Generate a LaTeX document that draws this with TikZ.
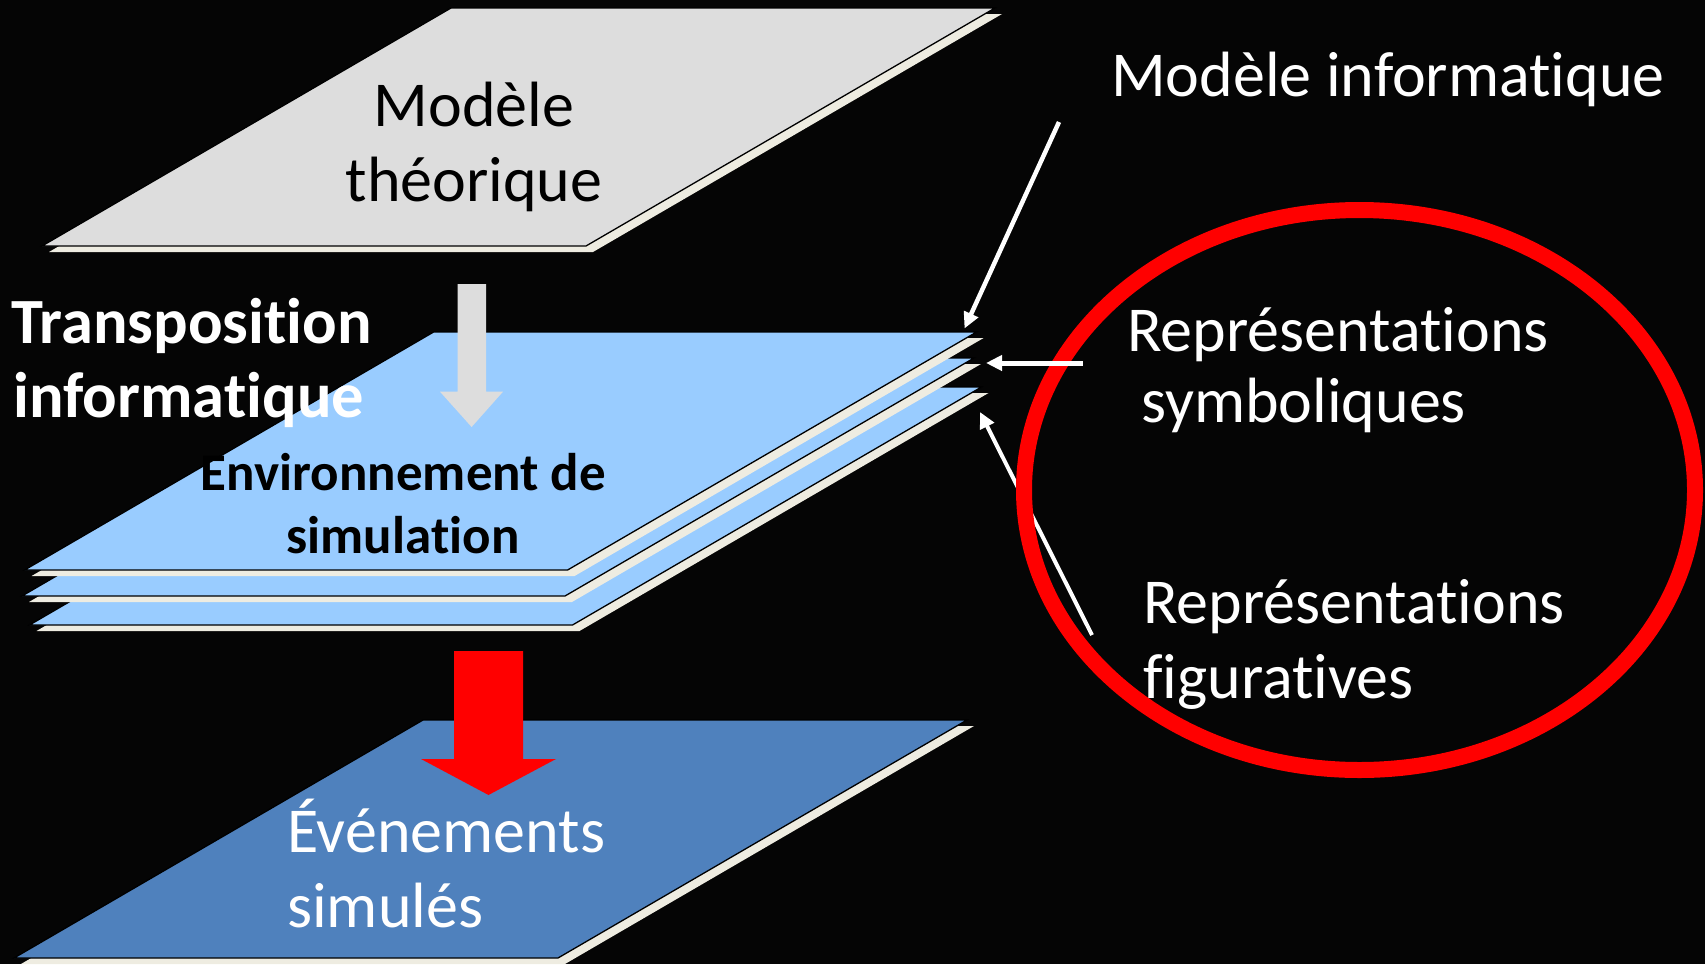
\documentclass[tikz,border=0pt]{standalone}
\usepackage{fontspec}
\setmainfont{Carlito}[Ligatures={NoCommon}]
\usetikzlibrary{arrows.meta}

\definecolor{bg}{RGB}{5,5,5}
\definecolor{planegray}{RGB}{221,221,221}
\definecolor{planeblue}{RGB}{153,204,255}
\definecolor{planedark}{RGB}{79,129,189}
\definecolor{planeedge}{RGB}{238,236,225}
\definecolor{ringred}{RGB}{255,0,0}

\tikzset{
  planeface/.style={draw=black, line width=1.3pt},
  planeshadow/.style={fill=planeedge},
  callout/.style={draw=white, line width=4.5pt, -{Triangle[length=16pt,width=15pt]}},
  txt/.style={inner sep=0pt, font=\fontsize{64}{72}\selectfont},
  whitetext/.style={txt, text=white},
  darktext/.style={txt, text=black},
  boldwhite/.style={inner sep=0pt, text=white, font=\fontsize{64.5}{72}\selectfont\bfseries},
  boldblack/.style={inner sep=0pt, text=black, font=\fontsize{53}{63}\selectfont\bfseries},
}

% a flat sheet in perspective: bottom-left corner (#1,#2), width #3, fill #4
\newcommand\drawsheet[4]{%
  \fill[planeshadow] (#1+7,#2+6) -- ++(#3,0) -- ++(409,-238) -- ++(-#3,0) -- cycle;
  \filldraw[planeface, fill=#4] (#1,#2) -- ++(#3,0) -- ++(409,-238) -- ++(-#3,0) -- cycle;
}

\begin{document}
\begin{tikzpicture}[x=1pt, y=-1pt]
  \useasboundingbox (0,0) rectangle (1705,964);
  \fill[bg] (0,0) rectangle (1705,964);

  % theoretical model sheet
  \drawsheet{42}{246}{544}{planegray}
  \node[darktext, anchor=base] (mt1) at (474,126) {Modèle};
  \node[darktext, anchor=base] (mt2) at (474,201) {théorique};

  % stack of simulation environment sheets
  \drawsheet{29.5}{625}{543}{planeblue}
  \drawsheet{22}{596}{543}{planeblue}
  \drawsheet{24.6}{570}{543}{planeblue}

  % grey block arrow
  \fill[planegray] (457.5,284) -- (486,284) -- (486,391.7) -- (503,391.7)
        -- (471.6,427) -- (440,391.7) -- (457.5,391.7) -- cycle;

  \node[boldwhite, anchor=base west] (tr1) at (11,343) {Transposition};
  \node[boldwhite, anchor=base west] (tr2) at (13,417) {informatique};
  \node[boldblack, anchor=base] (env1) at (403.5,490) {Environnement de};
  \node[boldblack, anchor=base] (env2) at (403,553) {simulation};

  % simulated events sheet
  \drawsheet{14}{958}{544}{planedark}
  \fill[ringred] (454,651) -- (523,651) -- (523,759) -- (556,759)
        -- (488.5,795) -- (421,759) -- (454,759) -- cycle;
  \node[whitetext, anchor=base west] (ev1) at (287,852) {Événements};
  \node[whitetext, anchor=base west] (ev2) at (287,927) {simulés};

  % callout arrows
  \coordinate (c1s) at (1059,122);
  \coordinate (c1e) at (964.5,328.5);
  \coordinate (c2s) at (1082.7,363);
  \coordinate (c2e) at (986,363);
  \coordinate (c3s) at (1092,635);
  \coordinate (c3e) at (980,412);
  \draw[callout] (c1s) -- (c1e);
  \draw[callout, line width=4pt] (c3s) -- (c3e);

  % red ring
  \draw[ringred, line width=16pt] (1359.5,490) ellipse [x radius=335.5pt, y radius=280pt];
  \draw[callout, line width=5pt] (c2s) -- (c2e);

  % right-hand labels
  \node[whitetext, anchor=base west] (mi) at (1111,96) {Modèle informatique};
  \node[whitetext, anchor=base west] (rs1) at (1127,351) {Représentations};
  \node[whitetext, anchor=base west] (rs2) at (1141,422) {symboliques};
  \node[whitetext, anchor=base west] (rf1) at (1143,623) {Représentations};
  \node[whitetext, anchor=base west] (rf2) at (1143,698) {figuratives};
\end{tikzpicture}
\end{document}
